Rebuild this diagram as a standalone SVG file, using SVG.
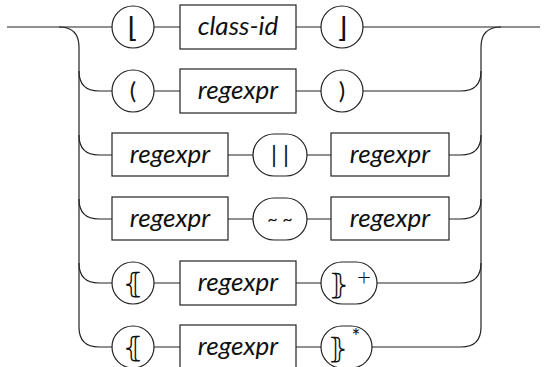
<svg xmlns="http://www.w3.org/2000/svg" width="547" height="367" viewBox="0 0 547 367">
<style>
.ln{fill:none;stroke:#222;stroke-width:1.2}
.nd{fill:#fff;stroke:#222;stroke-width:1.2}
.lb{font-family:Lato,"Open Sans","DejaVu Sans",sans-serif;font-style:italic;font-size:26px;fill:#111;text-anchor:middle}
.sy{font-family:"DejaVu Sans","Noto Sans",sans-serif;font-size:28px;fill:#111;text-anchor:middle}
.bar{font-family:Lato,"DejaVu Sans",sans-serif;font-size:24px;fill:#111;text-anchor:middle}
.tl{font-family:Lato,"DejaVu Sans",sans-serif;font-size:18px;fill:#111;text-anchor:middle}
.sup{font-family:Lato,"DejaVu Sans",sans-serif;fill:#111;text-anchor:middle}
</style>
<rect width="547" height="367" fill="#fff"/>
<g id="connectors" class="ln">
<path d="M7,27 H112 M154,27 H180 M296,27 H321 M363,27 H540"/>
<path d="M59,27 Q79,27 79,47 V327 Q79,347 99,347"/>
<path d="M501,27 Q481,27 481,47 V327 Q481,347 461,347"/>
<path d="M79,71 Q79,91 99,91 H112 M154,91 H180 M296,91 H321 M363,91 H461 Q481,91 481,71"/>
<path d="M79,135 Q79,155 99,155 H112 M228,155 H253 M307,155 H331 M449,155 H461 Q481,155 481,135"/>
<path d="M79,199 Q79,219 99,219 H112 M228,219 H253 M307,219 H331 M449,219 H461 Q481,219 481,199"/>
<path d="M79,263 Q79,283 99,283 H112 M154,283 H180 M296,283 H321 M377,283 H461 Q481,283 481,263"/>
<path d="M99,347 H112 M154,347 H180 M296,347 H321 M372,347 H461"/>
</g>
<g id="n1a"><circle class="nd" cx="133" cy="27" r="21"/><text class="sy" x="133" y="37">⌊</text></g>
<g id="n1b"><rect class="nd" x="180" y="5" width="116" height="44"/><text class="lb" x="238" y="35">class-id</text></g>
<g id="n1c"><circle class="nd" cx="342" cy="27" r="21"/><text class="sy" x="342" y="37">⌋</text></g>
<g id="n2a"><circle class="nd" cx="133" cy="91" r="21"/><text class="bar" x="133" y="99">(</text></g>
<g id="n2b"><rect class="nd" x="180" y="69" width="116" height="44"/><text class="lb" x="238" y="99">regexpr</text></g>
<g id="n2c"><circle class="nd" cx="342" cy="91" r="21"/><text class="bar" x="342" y="99">)</text></g>
<g id="n3a"><rect class="nd" x="112" y="133" width="116" height="43"/><text class="lb" x="170" y="163">regexpr</text></g>
<g id="n3b"><rect class="nd" x="253" y="134" width="54" height="42" rx="21"/><text class="bar" x="280" y="163">| |</text></g>
<g id="n3c"><rect class="nd" x="331" y="133" width="118" height="43"/><text class="lb" x="390" y="163">regexpr</text></g>
<g id="n4a"><rect class="nd" x="112" y="197" width="116" height="43"/><text class="lb" x="170" y="227">regexpr</text></g>
<g id="n4b"><rect class="nd" x="253" y="198" width="54" height="42" rx="21"/><text class="tl" x="280" y="225">~ ~</text></g>
<g id="n4c"><rect class="nd" x="331" y="197" width="118" height="43"/><text class="lb" x="390" y="227">regexpr</text></g>
<g id="n5a"><circle class="nd" cx="133" cy="283" r="21"/><text class="sy" x="133" y="293">⦃</text></g>
<g id="n5b"><rect class="nd" x="180" y="261" width="116" height="44"/><text class="lb" x="238" y="291">regexpr</text></g>
<g id="n5c"><rect class="nd" x="321" y="262" width="56" height="42" rx="21"/><text class="sy" x="339" y="294">⦄</text><text class="sup" style="font-size:24px;font-weight:300" x="364" y="285">+</text></g>
<g id="n6a"><circle class="nd" cx="133" cy="347" r="21"/><text class="sy" x="133" y="357">⦃</text></g>
<g id="n6b"><rect class="nd" x="180" y="325" width="116" height="44"/><text class="lb" x="238" y="355">regexpr</text></g>
<g id="n6c"><rect class="nd" x="321" y="326" width="51" height="42" rx="21"/><text class="sy" x="338" y="358">⦄</text><text class="sup" style="font-size:21px" x="356" y="344">*</text></g>
</svg>
